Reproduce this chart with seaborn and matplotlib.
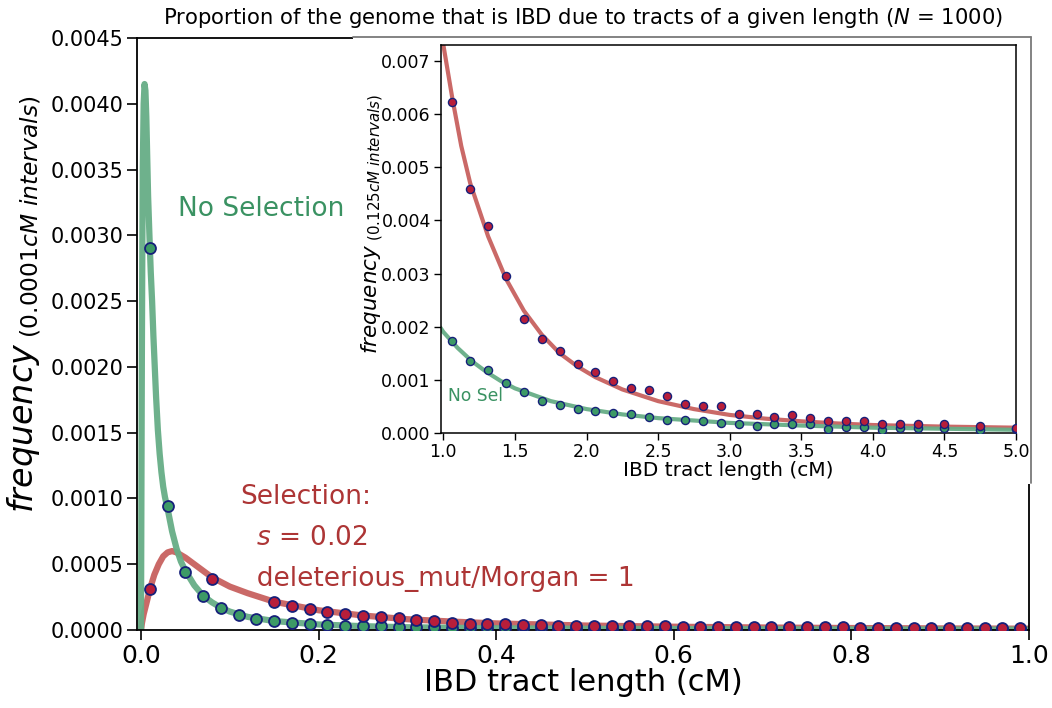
import matplotlib
matplotlib.use("Agg")
import matplotlib.pyplot as plt
import seaborn as sns
from matplotlib.lines import Line2D
from matplotlib.patches import Rectangle
from matplotlib.ticker import FormatStrFormatter, MultipleLocator

# ---------------- data ----------------
# main panel: theoretical curves
curve_nosel_x = [0.0, 0.0005, 0.001, 0.0015, 0.002, 0.003, 0.004, 0.005, 0.006, 0.007, 0.008,
                 0.0095, 0.011, 0.0125, 0.014, 0.0155, 0.017, 0.019, 0.021, 0.023, 0.025, 0.027,
                 0.03, 0.035, 0.04, 0.045, 0.05, 0.06, 0.07, 0.08, 0.09,
                 0.1, 0.12, 0.15, 0.2, 0.25, 0.3, 0.4, 0.5, 0.6, 0.7, 0.8, 0.9, 1.0]
curve_nosel_y = [0.0, 0.0011, 0.0021, 0.0029, 0.0035, 0.0040, 0.00415, 0.0041, 0.0039, 0.0036, 0.0033,
                 0.0030, 0.00272, 0.0025, 0.00223, 0.0020, 0.00177, 0.00152, 0.00134, 0.00120, 0.00109, 0.00101,
                 0.00092, 0.00075, 0.00062, 0.00052, 0.00045, 0.00034, 0.00026, 0.00021, 0.000170,
                 0.00014, 0.000100, 0.000068, 0.000042, 0.000029, 0.000021, 0.000013, 0.0000090, 0.0000068,
                 0.0000053, 0.0000043, 0.0000036, 0.0000030]
curve_sel_x = [0.0, 0.001, 0.003, 0.006, 0.01, 0.015, 0.02, 0.025, 0.03, 0.035, 0.04, 0.05, 0.06,
               0.07, 0.08, 0.1, 0.12, 0.15, 0.2, 0.25, 0.3, 0.35, 0.4, 0.5, 0.6, 0.7, 0.8, 0.9, 1.0]
curve_sel_y = [0.0, 0.00005, 0.00012, 0.00020, 0.00031, 0.00042, 0.00050, 0.00056, 0.00059, 0.00060,
               0.00059, 0.00055, 0.00050, 0.00045, 0.00040, 0.00033, 0.00028, 0.000215, 0.000150,
               0.000110, 0.000082, 0.000064, 0.000050, 0.000034, 0.000025, 0.000019, 0.000015,
               0.000012, 0.000010]

# main panel: simulated points
sim_nosel_x = [0.01, 0.03, 0.05, 0.07, 0.09, 0.11, 0.13, 0.15, 0.17, 0.19,
               0.21, 0.23, 0.25, 0.27, 0.29, 0.31, 0.33, 0.35, 0.37, 0.39,
               0.41, 0.43, 0.45, 0.47, 0.49, 0.51, 0.53, 0.55, 0.57, 0.59,
               0.61, 0.63, 0.65, 0.67, 0.69, 0.71, 0.73, 0.75, 0.77, 0.79,
               0.81, 0.83, 0.85, 0.87, 0.89, 0.91, 0.93, 0.95, 0.97, 0.99]
sim_nosel_y = [0.00290, 0.00094, 0.00044, 0.00026, 0.000170, 0.000116, 0.000085, 0.000066, 0.000052, 0.000045,
               0.000038, 0.000033, 0.000030, 0.000027, 0.000024, 0.000022, 0.000020, 0.000018, 0.000016, 0.000015,
               0.000014, 0.000013, 0.000012, 0.000011, 0.000011, 0.000010, 0.000010, 0.0000095, 0.0000090, 0.0000085,
               0.0000080, 0.0000075, 0.0000070, 0.0000068, 0.0000065, 0.0000062, 0.0000060, 0.0000058, 0.0000055, 0.0000053,
               0.0000050, 0.0000048, 0.0000046, 0.0000045, 0.0000044, 0.0000043, 0.0000042, 0.0000041, 0.0000040, 0.0000040]
sim_sel_x = [0.01, 0.08,
             0.15, 0.17, 0.19, 0.21, 0.23, 0.25, 0.27, 0.29, 0.31, 0.33,
             0.35, 0.37, 0.39, 0.41, 0.43, 0.45, 0.47, 0.49, 0.51, 0.53,
             0.55, 0.57, 0.59, 0.61, 0.63, 0.65, 0.67, 0.69, 0.71, 0.73,
             0.75, 0.77, 0.79, 0.81, 0.83, 0.85, 0.87, 0.89, 0.91, 0.93,
             0.95, 0.97, 0.99]
sim_sel_y = [0.00031, 0.00039,
             0.000215, 0.000182, 0.000159, 0.000136, 0.000121, 0.000106, 0.000096, 0.000091, 0.000075, 0.000065,
             0.000050, 0.000047, 0.000046, 0.000043, 0.000037, 0.000036, 0.000034, 0.000033, 0.000031, 0.000030,
             0.000029, 0.000028, 0.000027, 0.000026, 0.000025, 0.000024, 0.000024, 0.000023, 0.000022, 0.000022,
             0.000021, 0.000020, 0.000020, 0.000019, 0.000019, 0.000018, 0.000018, 0.000017, 0.000017, 0.000016,
             0.000016, 0.000015, 0.000015]

# inset: theoretical curves
inset_sel_curve_x = [0.98, 1.0, 1.0625, 1.125, 1.1875, 1.25, 1.3125, 1.375, 1.4375, 1.5625, 1.6875,
                     1.8125, 1.9375, 2.0625, 2.25, 2.5, 2.75, 3.0, 3.25, 3.5, 3.75, 4.0, 4.5, 5.0]
inset_sel_curve_y = [0.0076, 0.0073, 0.0063, 0.0054, 0.0047, 0.0042, 0.0037, 0.0033, 0.0029, 0.0023, 0.00185,
                     0.0015, 0.00125, 0.00105, 0.00082, 0.00060, 0.00045, 0.00034, 0.00027, 0.00022, 0.00018,
                     0.00015, 0.00012, 0.00010]
inset_nosel_curve_x = [0.98, 1.0, 1.1, 1.2, 1.3, 1.4, 1.5, 1.75, 2.0, 2.25, 2.5, 3.0, 3.5, 4.0, 4.5, 5.0]
inset_nosel_curve_y = [0.00198, 0.0019, 0.0016, 0.00135, 0.00115, 0.00098, 0.00084, 0.00060, 0.00045,
                       0.00035, 0.00028, 0.00019, 0.00014, 0.00010, 0.000080, 0.000060]

# inset: simulated points
inset_bins = [1.0625, 1.1875, 1.3125, 1.4375, 1.5625, 1.6875, 1.8125, 1.9375, 2.0625, 2.1875,
              2.3125, 2.4375, 2.5625, 2.6875, 2.8125, 2.9375, 3.0625, 3.1875, 3.3125, 3.4375,
              3.5625, 3.6875, 3.8125, 3.9375, 4.0625, 4.1875, 4.3125, 4.5, 4.75, 5.0]
inset_sel_y = [0.00623, 0.00460, 0.00390, 0.00295, 0.00215, 0.00177, 0.00155, 0.00130, 0.00114, 0.00097,
               0.00085, 0.00080, 0.00069, 0.00055, 0.00051, 0.00050, 0.00036, 0.00036, 0.00031, 0.00033,
               0.00028, 0.00022, 0.00022, 0.00023, 0.00017, 0.00017, 0.00017, 0.00017, 0.00013, 0.00009]
inset_nosel_y = [0.00174, 0.00135, 0.00119, 0.00095, 0.00077, 0.00061, 0.00053, 0.00045, 0.00042, 0.00038,
                 0.00035, 0.00031, 0.00025, 0.00024, 0.00023, 0.00019, 0.00017, 0.00013, 0.00017, 0.00017,
                 0.00017, 0.00008, 0.00011, 0.00011, 0.00006, 0.00009, 0.00009, 0.00009, 0.00006, 0.00008]

title_text = "Proportion of the genome that is IBD due to tracts of a given length ($N$ = 1000)"
xlabel_text = "IBD tract length (cM)"
main_ylabel = r"$frequency_{\ (0.0001cM\ intervals)}$"
inset_ylabel = r"$frequency_{\ (0.125cM\ intervals)}$"
nosel_label = "No Selection"
sel_label = "Selection:\n  $s$ = 0.02\n  deleterious_mut/Morgan = 1"
inset_nosel_label = "No Sel"

# ---------------- style ----------------
sns.set_style("ticks")
plt.rcParams["font.family"] = ["DejaVu Sans"]
plt.rcParams["mathtext.fontset"] = "dejavusans"
for key in ["text.color", "axes.labelcolor", "xtick.color", "ytick.color", "axes.edgecolor"]:
    plt.rcParams[key] = "black"

GREEN_LINE = "#66ad86"
RED_LINE = "#c8615f"
GREEN_DOT = "#3d9a66"
RED_DOT = "#b81e3a"
DOT_EDGE = "#16207a"
GREEN_TEXT = "#3a9262"
RED_TEXT = "#ad3535"

fig = plt.figure(figsize=(10.52, 7.08), dpi=100)
W, H = 1052, 708

def fx(px):
    return px / W

def fy(py):
    return 1 - py / H

# main axes
ax = fig.add_axes([fx(137), fy(630), fx(1029) - fx(137), fy(38) - fy(630)])
sns.lineplot(x=curve_sel_x, y=curve_sel_y, ax=ax, color=RED_LINE, lw=4.5, alpha=0.95, sort=False)
sns.lineplot(x=curve_nosel_x, y=curve_nosel_y, ax=ax, color=GREEN_LINE, lw=4.5, alpha=0.95, sort=False)
sns.scatterplot(x=sim_nosel_x, y=sim_nosel_y, ax=ax, color=GREEN_DOT, edgecolor=DOT_EDGE,
                linewidth=1.3, s=62, zorder=4)
sns.scatterplot(x=sim_sel_x, y=sim_sel_y, ax=ax, color=RED_DOT, edgecolor=DOT_EDGE,
                linewidth=1.3, s=62, zorder=5)
ax.set_xlim(-0.0045, 1.0)
ax.set_ylim(0, 0.0045)
ax.yaxis.set_major_locator(MultipleLocator(0.0005))
ax.yaxis.set_major_formatter(FormatStrFormatter("%.4f"))
ax.xaxis.set_major_locator(MultipleLocator(0.2))
ax.xaxis.set_major_formatter(FormatStrFormatter("%.1f"))
ax.tick_params(axis="y", labelsize=15, length=7, width=1.2, pad=3)
ax.tick_params(axis="x", labelsize=18, length=7, width=1.2, pad=3)
for sp in ax.spines.values():
    sp.set_linewidth(1.3)
    sp.set_color("black")
ax.set_xlabel(xlabel_text, fontsize=22, labelpad=0)
ax.set_ylabel(main_ylabel, fontsize=24, labelpad=3)
ax.yaxis.set_label_coords(-0.105, 0.55)
ax.set_title(title_text, fontsize=15.2, pad=10)
ax.text(0.042, 0.0032, nosel_label, color=GREEN_TEXT, fontsize=19, ha="left", va="center")
ax.text(0.112, 0.00111, sel_label, color=RED_TEXT, fontsize=19, ha="left", va="top", linespacing=1.75)

# white pasted-panel background with grey frame (covers main top/right spines)
fig.add_artist(Rectangle((fx(353), fy(484)), fx(1032) - fx(353), fy(35) - fy(484),
                         transform=fig.transFigure, facecolor="white", edgecolor="none", zorder=1))
fig.add_artist(Line2D([fx(353), fx(1031)], [fy(37), fy(37)], transform=fig.transFigure,
                      color="#7a7a7a", lw=1.3, zorder=1.5))
fig.add_artist(Line2D([fx(1031), fx(1031)], [fy(37), fy(483)], transform=fig.transFigure,
                      color="#7a7a7a", lw=1.3, zorder=1.5))

# inset axes
ins = fig.add_axes([fx(440.5), fy(433), fx(1016) - fx(440.5), fy(45) - fy(433)])
ins.set_zorder(3)
sns.lineplot(x=inset_sel_curve_x, y=inset_sel_curve_y, ax=ins, color=RED_LINE, lw=3, alpha=0.95, sort=False)
sns.lineplot(x=inset_nosel_curve_x, y=inset_nosel_curve_y, ax=ins, color=GREEN_LINE, lw=3, alpha=0.95, sort=False)
sns.scatterplot(x=inset_bins, y=inset_nosel_y, ax=ins, color=GREEN_DOT, edgecolor=DOT_EDGE,
                linewidth=1.0, s=34, zorder=4)
sns.scatterplot(x=inset_bins, y=inset_sel_y, ax=ins, color=RED_DOT, edgecolor=DOT_EDGE,
                linewidth=1.0, s=34, zorder=5)
ins.set_xlim(0.98, 5.0)
ins.set_ylim(0, 0.0073)
ins.yaxis.set_major_locator(MultipleLocator(0.001))
ins.yaxis.set_major_formatter(FormatStrFormatter("%.3f"))
ins.xaxis.set_major_locator(MultipleLocator(0.5))
ins.xaxis.set_major_formatter(FormatStrFormatter("%.1f"))
ins.tick_params(labelsize=12.5, length=5, width=1.0, pad=2)
for sp in ins.spines.values():
    sp.set_linewidth(1.1)
    sp.set_color("black")
ins.set_xlabel(xlabel_text, fontsize=14.5, labelpad=0)
ins.set_ylabel(inset_ylabel, fontsize=15.5, labelpad=2)
ins.yaxis.set_label_coords(-0.095, 0.54)
ins.text(1.03, 0.00069, inset_nosel_label, color=GREEN_TEXT, fontsize=12.3, ha="left", va="center")

fig.savefig("out.png", dpi=100)
